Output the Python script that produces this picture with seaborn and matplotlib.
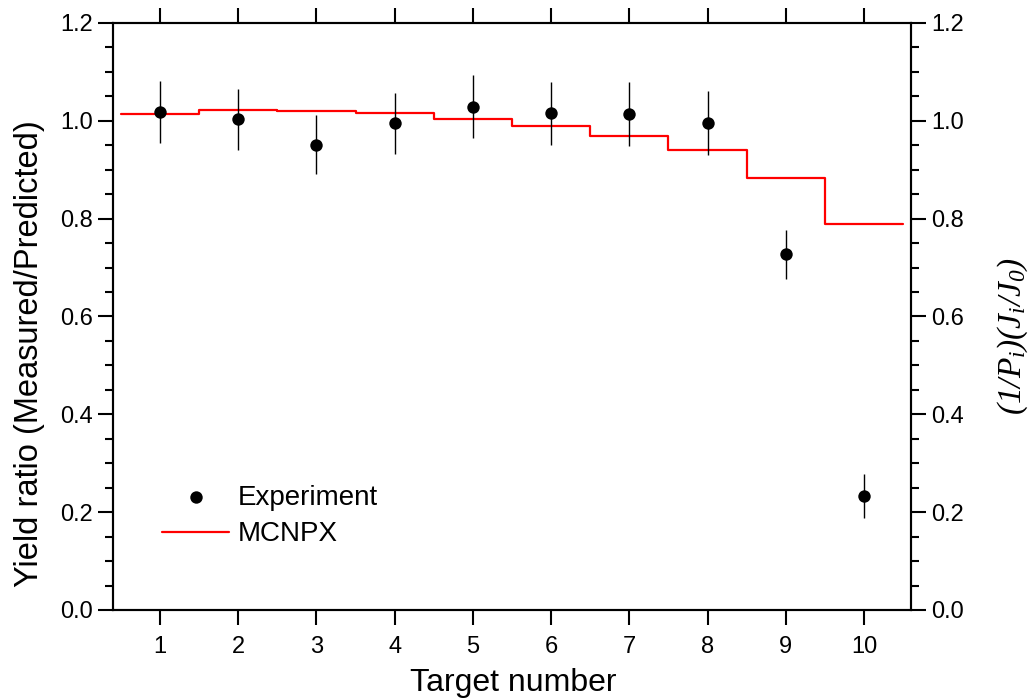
import numpy as np
import pandas as pd
import matplotlib
matplotlib.use("Agg")
import matplotlib.pyplot as plt
from matplotlib.ticker import MultipleLocator, FormatStrFormatter
import seaborn as sns

# Measured yield ratios per target, with uncertainties
targets = [1, 2, 3, 4, 5, 6, 7, 8, 9, 10]
experiment = [1.018, 1.003, 0.951, 0.995, 1.029, 1.015, 1.014, 0.995, 0.727, 0.234]
experiment_err = [0.063, 0.062, 0.060, 0.062, 0.065, 0.064, 0.065, 0.065, 0.050, 0.045]

# MCNPX prediction, one constant level per target bin
mcnpx = [1.013, 1.022, 1.020, 1.015, 1.004, 0.990, 0.970, 0.940, 0.884, 0.790]

x_ticks = [1, 2, 3, 4, 5, 6, 7, 8, 9, 10]

sns.set_theme(style="ticks")
plt.rcParams["font.family"] = ["Liberation Sans", "DejaVu Sans"]
plt.rcParams["text.color"] = "black"
plt.rcParams["axes.labelcolor"] = "black"
plt.rcParams["xtick.color"] = "black"
plt.rcParams["ytick.color"] = "black"
plt.rcParams["mathtext.fontset"] = "custom"
plt.rcParams["mathtext.rm"] = "Liberation Serif:italic"
plt.rcParams["mathtext.it"] = "Liberation Serif:italic"

W, H = 1034, 699
fig = plt.figure(figsize=(W / 100, H / 100), dpi=100)
ax = fig.add_axes([113 / W, 1 - 610 / H, (911 - 113) / W, (610 - 23) / H])

# Step line over bin edges 0.5 ... 10.5
edges = np.arange(0.5, 11.0, 1.0)
step_df = pd.DataFrame({"x": edges, "y": mcnpx + [mcnpx[-1]]})
sns.lineplot(data=step_df, x="x", y="y", drawstyle="steps-post", color="#ff0000",
             linewidth=1.6, ax=ax, label="MCNPX", legend=False)

exp_df = pd.DataFrame({"t": targets, "r": experiment, "e": experiment_err})
ax.errorbar(exp_df["t"], exp_df["r"], yerr=exp_df["e"], fmt="none", ecolor="black",
            elinewidth=1.0, capsize=0, zorder=3)
sns.scatterplot(data=exp_df, x="t", y="r", color="black", s=80, edgecolor="black",
                linewidth=0, ax=ax, label="Experiment", legend=False, zorder=4)

ax.set_xlim(0.4, 10.6)
ax.set_ylim(0.0, 1.2)
ax.set_xticks(x_ticks)
ax.yaxis.set_major_locator(MultipleLocator(0.2))
ax.yaxis.set_minor_locator(MultipleLocator(0.05))
ax.yaxis.set_major_formatter(FormatStrFormatter("%.1f"))

for s in ax.spines.values():
    s.set_linewidth(1.5)
    s.set_color("black")

ax.tick_params(axis="both", which="major", direction="out", length=11, width=1.5,
               labelsize=17, colors="black", top=True, right=False)
ax.tick_params(axis="y", which="minor", direction="out", length=5.5, width=1.5, left=True)
ax.tick_params(axis="x", which="major", pad=8)
ax.set_xlabel("")
ax.set_ylabel("")

# Right-hand axis with the same scale
ax2 = ax.twinx()
ax2.set_ylim(ax.get_ylim())
ax2.yaxis.set_major_locator(MultipleLocator(0.2))
ax2.yaxis.set_minor_locator(MultipleLocator(0.05))
ax2.yaxis.set_major_formatter(FormatStrFormatter("%.1f"))
ax2.tick_params(axis="y", which="major", direction="out", length=11, width=1.5,
                labelsize=17, colors="black")
ax2.tick_params(axis="y", which="minor", direction="out", length=5.5, width=1.5)
for s in ax2.spines.values():
    s.set_linewidth(1.5)
    s.set_color("black")

# Axis titles
fig.text(513 / W, 1 - 683 / H, "Target number", fontsize=23, ha="center", va="center")
fig.text(30 / W, 1 - 354 / H, "Yield ratio (Measured/Predicted)", fontsize=23.5,
         rotation=90, ha="center", va="center")
fig.text(1013 / W, 1 - 336 / H, r"$(1/P_i)(J_i/J_0)$", fontsize=24,
         rotation=90, ha="center", va="center")

handles, labels = ax.get_legend_handles_labels()
order = [labels.index("Experiment"), labels.index("MCNPX")]
ax.legend([handles[i] for i in order], [labels[i] for i in order],
          loc="lower left", bbox_to_anchor=(0.048, 0.088), frameon=False,
          fontsize=20, handlelength=2.4, handletextpad=0.32, labelspacing=0.38,
          borderaxespad=0)

fig.savefig("out.png", dpi=100)
